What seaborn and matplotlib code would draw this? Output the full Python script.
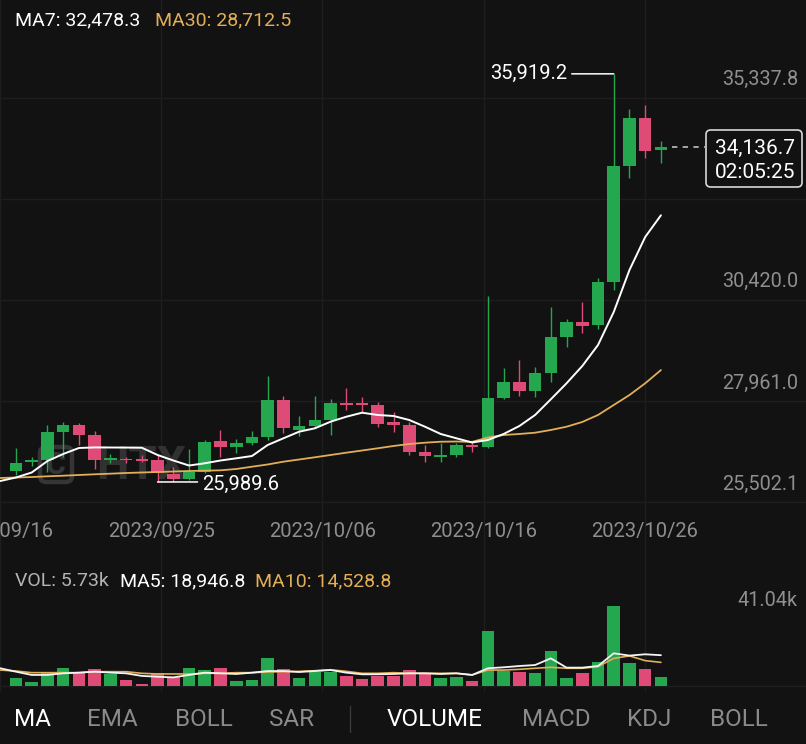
import numpy as np
import pandas as pd
import matplotlib
matplotlib.use("Agg")
import matplotlib.pyplot as plt
import seaborn as sns
from matplotlib.patches import FancyBboxPatch
from matplotlib.lines import Line2D

# ---------------- data ----------------
dates = pd.date_range("2023-09-16", "2023-10-27", freq="D")  # 42 daily candles

open_ = [26264, 26488, 26524, 27213, 27376, 27132, 26536, 26553, 26536, 26524,
         26176, 26062, 26239, 26986, 26848, 26945, 27091, 27984, 27254, 27351,
         27497, 27918, 27918, 27862, 27456, 27376, 26726, 26604, 26646, 26889,
         26848, 28025, 28414, 28203, 28648, 29509, 29889, 29808, 30862, 33677,
         34838, 34078]
high = [26823, 26604, 27376, 27456, 27432, 27237, 26670, 26604, 26646, 26646,
        26346, 26784, 27011, 27254, 27028, 27230, 28568, 28081, 27595, 28081,
        28001, 28283, 28049, 27942, 27699, 27456, 26889, 26930, 26930, 26969,
        30514, 28755, 28957, 28779, 30239, 29947, 30375, 30945, 35919.2, 35057,
        35161, 34293]
low = [26159, 26378, 26240, 26604, 26889, 26298, 26444, 26458, 26475, 25989.6,
       25996, 26037, 26208, 26604, 26687, 26889, 27011, 27188, 27108, 27295,
       27132, 27741, 27660, 27334, 27213, 26646, 26483, 26483, 26604, 26726,
       26820, 28001, 28081, 28064, 28429, 29281, 29607, 29704, 30660, 33378,
       33864, 33757]
close = [26444, 26512, 27213, 27376, 27132, 26524, 26561, 26524, 26512, 26200,
         26054, 26239, 26955, 26848, 26945, 27091, 27984, 27295, 27351, 27497,
         27904, 27862, 27862, 27400, 27376, 26726, 26629, 26646, 26889, 26852,
         28025, 28429, 28203, 28633, 29509, 29889, 29792, 30862, 33677, 34838,
         34049, 34136.7]
volume_k = [4.7, 2.3, 7.8, 10.9, 7.8, 10.3, 7.2, 3.7, 1.2, 8.2,
            5.4, 10.9, 9.8, 10.9, 3.3, 3.7, 17.0, 10.3, 5.1, 8.4,
            8.6, 6.2, 4.3, 6.2, 6.2, 9.8, 7.8, 4.7, 5.4, 3.3,
            33.8, 9.4, 8.8, 8.2, 21.5, 5.1, 8.2, 14.9, 49.2, 14.0,
            10.3, 5.73]

# moving averages as drawn (first value belongs to the candle just left of the view)
ma7 = [26013, 26098, 26220, 26500, 26670, 26816, 26830, 26828, 26826, 26822,
       26646, 26512, 26390, 26444, 26512, 26565, 26621, 26889, 27052, 27213,
       27295, 27456, 27577, 27675, 27619, 27595, 27497, 27334, 27157, 27052,
       26950, 27011, 27157, 27351, 27619, 28001, 28390, 28811, 29322, 30125,
       31147, 31950, 32478.3]
ma30 = [26086, 26098, 26110, 26127, 26142, 26159, 26176, 26191, 26208, 26220,
        26232, 26244, 26256, 26264, 26273, 26305, 26361, 26415, 26483, 26536,
        26590, 26646, 26702, 26755, 26809, 26865, 26913, 26945, 26969, 26974,
        26965, 27071, 27132, 27157, 27188, 27254, 27334, 27449, 27619, 27862,
        28105, 28390, 28712.5]
vol_ma5 = [10.9, 8.8, 6.8, 6.8, 7.8, 8.2, 8.8, 8.2, 7.8, 6.2,
           5.7, 5.3, 6.8, 8.2, 7.8, 7.4, 8.2, 9.2, 9.2, 8.6,
           9.2, 9.8, 8.2, 7.2, 7.2, 7.4, 7.8, 7.8, 7.4, 7.8,
           6.8, 10.9, 11.5, 12.3, 12.9, 17.0, 11.3, 11.3, 12.3, 20.1,
           18.7, 19.5, 18.9468]
vol_ma10 = [9.8, 9.2, 8.2, 8.2, 8.2, 8.2, 8.8, 8.8, 8.8, 7.8,
            7.4, 7.4, 7.4, 7.8, 7.8, 8.2, 8.2, 8.6, 8.8, 9.0,
            9.4, 10.0, 9.0, 7.8, 7.8, 8.2, 7.8, 7.8, 7.8, 7.8,
            6.8, 9.8, 9.8, 10.25, 10.9, 11.5, 10.9, 10.9, 11.9, 17.0,
            18.5, 15.6, 14.5288]

price_levels = [25502.1, 27961.0, 30420.0, 32879.0, 35337.8]
price_labels = ["25,502.1", "27,961.0", "30,420.0", None, "35,337.8"]
date_labels = ["2023/09/16", "2023/09/25", "2023/10/06", "2023/10/16", "2023/10/26"]
tabs = ["MA", "EMA", "BOLL", "SAR", "VOLUME", "MACD", "KDJ", "BOLL"]

# ---------------- styling ----------------
BG = "#121212"
GREEN = "#25A750"
RED = "#DD4B76"
ORANGE = "#E2AE58"
GRID = "#1E1E1E"
GRAY = "#8F8F8F"

sns.set_theme(style="dark", rc={"axes.facecolor": BG, "figure.facecolor": BG,
                                "axes.edgecolor": BG, "grid.color": GRID})
plt.rcParams["font.family"] = ["Roboto", "DejaVu Sans"]

W, H = 806, 744
fig = plt.figure(figsize=(W / 100, H / 100), dpi=100, facecolor=BG)

PPX = 24.33          # price units per pixel
VPX = 0.615          # volume (k) per pixel
SP = 15.73           # candle spacing in pixels

ax = fig.add_axes([0, 1 - 552 / H, 1, 552 / H])
axv = fig.add_axes([0, 1 - 692 / H, 1, 140 / H], sharex=ax)
for a in (ax, axv):
    a.set_facecolor(BG)
    for s in a.spines.values():
        s.set_visible(False)
    a.tick_params(left=False, bottom=False, labelleft=False, labelbottom=False)
    a.grid(False)

XL = 1 - 16 / SP
XR = 1 + (W - 16) / SP
ax.set_xlim(XL, XR)
ax.set_ylim(25502.1 - 50 * PPX, 25502.1 + 502 * PPX)
axv.set_ylim(-6 * VPX, 134 * VPX)

df = pd.DataFrame({"date": dates, "open": open_, "high": high, "low": low,
                   "close": close, "vol": volume_k})
df["x"] = np.arange(1, len(df) + 1)
ma_df = pd.DataFrame({"x": np.arange(0, len(ma7)), "ma7": ma7, "ma30": ma30,
                      "vma5": vol_ma5, "vma10": vol_ma10})

# grid
for f in [0, 0.2, 0.4, 0.6, 0.8]:
    xv = XL + f * (XR - XL)
    ax.axvline(xv, color=GRID, lw=1, zorder=0)
    axv.axvline(xv, color=GRID, lw=1, zorder=0)
for lv in price_levels:
    ax.axhline(lv, color=GRID, lw=1, zorder=0)
axv.axhline(0, color=GRID, lw=1, zorder=0)

# faint watermark (inside the price axes, behind candles)
wm = FancyBboxPatch((40 / W, 1 - 482 / H), 32 / W, 35 / H,
                    boxstyle="round,pad=0,rounding_size=0.008",
                    transform=fig.transFigure, facecolor="none",
                    edgecolor="#3E3E3E", lw=3.2, alpha=0.8, zorder=1, clip_on=False)
ax.add_artist(wm)
ax.text(56 / W, 1 - 465 / H, "C", transform=fig.transFigure, ha="center", va="center",
        color="#3E3E3E", fontsize=22, fontweight="bold", alpha=0.8, zorder=1)
ax.text(96 / W, 1 - 466 / H, "HTX", transform=fig.transFigure, ha="left", va="center",
        color="#3A3A3A", fontsize=33, fontweight="bold", alpha=0.8, zorder=1)

# candles
up = df["close"] >= df["open"]
cols = np.where(up, GREEN, RED)
b_lo = np.minimum(df["open"], df["close"])
b_hi = np.maximum(df["open"], df["close"])
raw_h = b_hi - b_lo
h = np.maximum(raw_h, 1.6 * PPX)
ax.vlines(df["x"], df["low"], df["high"], colors=cols, lw=1.0, zorder=3)
ax.bar(df["x"], h, bottom=b_lo - (h - raw_h) / 2, width=0.8, color=cols,
       linewidth=0, zorder=4)

# MA lines
sns.lineplot(data=ma_df, x="x", y="ma30", ax=ax, color=ORANGE, lw=1.3, zorder=5)
sns.lineplot(data=ma_df, x="x", y="ma7", ax=ax, color="white", lw=1.4, zorder=6)
ax.set_xlabel(""); ax.set_ylabel("")

# volume
axv.bar(df["x"], df["vol"], width=0.8, color=cols, linewidth=0, zorder=3)
sns.lineplot(data=ma_df, x="x", y="vma10", ax=axv, color=ORANGE, lw=1.2, zorder=5)
sns.lineplot(data=ma_df, x="x", y="vma5", ax=axv, color="#F4F4F4", lw=1.3, zorder=6)
axv.set_xlabel(""); axv.set_ylabel("")
axv.tick_params(left=False, bottom=False, labelleft=False, labelbottom=False)
ax.tick_params(left=False, bottom=False, labelleft=False, labelbottom=False)

# price axis labels
for lv, lb in zip(price_levels, price_labels):
    if lb is None:
        continue
    ax.annotate(lb, xy=(798 / W, lv), xycoords=("axes fraction", "data"),
                xytext=(0, 18), textcoords="offset pixels", ha="right",
                va="center", color=GRAY, fontsize=14.3, zorder=7)

# date labels
for f, lb in zip([0, 0.2, 0.4, 0.6, 0.8], date_labels):
    fig.text(f, 1 - 531 / H, lb, ha="center", va="center", color=GRAY, fontsize=14.5)

# high / low markers
i_hi = int(np.argmax(df["high"]))
i_lo = int(np.argmin(df["low"]))
xh, yh = df["x"][i_hi], df["high"][i_hi]
ax.annotate("", xy=(xh, yh), xytext=(xh - 42 / SP, yh),
            arrowprops=dict(arrowstyle="-", color="white", lw=1.1, shrinkA=0, shrinkB=0), zorder=7)
ax.annotate(f"{yh:,.1f}", xy=(xh, yh), xytext=(-46, 0), textcoords="offset pixels",
            ha="right", va="center", color="white", fontsize=14.5, zorder=7)
xl_, yl_ = df["x"][i_lo], df["low"][i_lo]
ax.annotate("", xy=(xl_, yl_), xytext=(xl_ + 40 / SP, yl_),
            arrowprops=dict(arrowstyle="-", color="white", lw=1.1, shrinkA=0, shrinkB=0), zorder=7)
ax.annotate(f"{yl_:,.1f}", xy=(xl_, yl_), xytext=(45, -2), textcoords="offset pixels",
            ha="left", va="center", color="white", fontsize=14.5, zorder=7)

# current price line + box
last = df["close"].iloc[-1]
ax.axhline(last, xmin=672 / W, xmax=705 / W, color="#CFCFCF", lw=1.1,
           ls=(0, (3.5, 3.5)), zorder=7)
box = FancyBboxPatch((706 / W, 1 - 187 / H), 96 / W, 57 / H,
                     boxstyle="round,pad=0,rounding_size=0.006",
                     transform=fig.transFigure, facecolor=BG,
                     edgecolor="#D8D8D8", lw=1.2, zorder=10)
fig.add_artist(box)
fig.text(755 / W, 1 - 148 / H, f"{last:,.1f}", ha="center", va="center",
         color="white", fontsize=15, zorder=11)
fig.text(755 / W, 1 - 173 / H, "02:05:25", ha="center", va="center",
         color="white", fontsize=15, zorder=11)

# top legends
fig.text(15 / W, 1 - 20 / H, f"MA7: {ma7[-1]:,.1f}", ha="left", va="center",
         color="white", fontsize=14)
fig.text(155 / W, 1 - 20 / H, f"MA30: {ma30[-1]:,.1f}", ha="left", va="center",
         color=ORANGE, fontsize=14)
fig.text(15 / W, 1 - 581 / H, f"VOL: {volume_k[-1]:.2f}k", ha="left", va="center",
         color="#B4B4B4", fontsize=14)
fig.text(120 / W, 1 - 581 / H, f"MA5: {vol_ma5[-1]*1000:,.1f}", ha="left", va="center",
         color="white", fontsize=14)
fig.text(255 / W, 1 - 581 / H, f"MA10: {vol_ma10[-1]*1000:,.1f}", ha="left", va="center",
         color=ORANGE, fontsize=14)
fig.text(798 / W, 1 - 601 / H, "41.04k", ha="right", va="center",
         color=GRAY, fontsize=14.3)

# bottom tabs
tab_x = [33, 112, 204, 292, 435, 556, 649, 739]
tab_active = [True, False, False, False, True, False, False, False]
for tx, tl, act in zip(tab_x, tabs, tab_active):
    fig.text(tx / W, 1 - 719 / H, tl, ha="center", va="center",
             color="white" if act else "#8A8A8A", fontsize=17.5)
fig.add_artist(Line2D([350 / W, 350 / W], [1 - 706 / H, 1 - 732 / H],
                      transform=fig.transFigure, color="#3A3A3A", lw=1))

fig.savefig("out.png", dpi=100, facecolor=BG)
